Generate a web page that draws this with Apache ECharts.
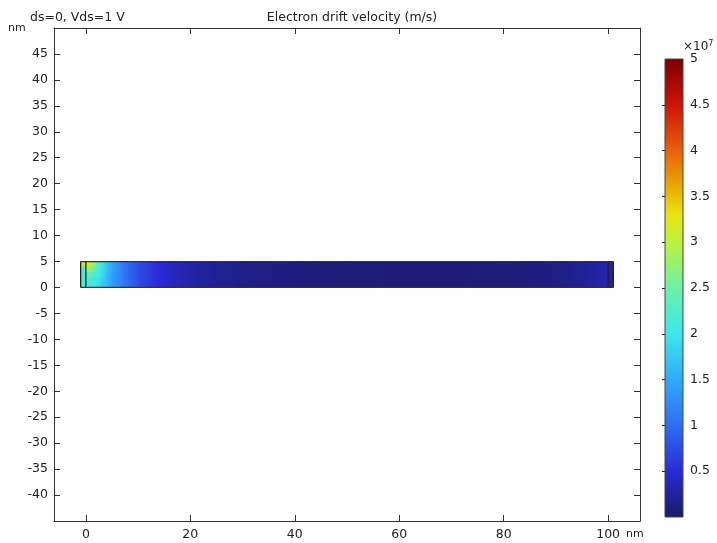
<!DOCTYPE html>
<html>
<head>
<meta charset="utf-8">
<script src="https://cdn.jsdelivr.net/npm/echarts@6/dist/echarts.min.js"></script>
<style>html,body{margin:0;padding:0;background:#fff}#c{width:717px;height:543px}</style>
</head>
<body>
<div id="c"></div>
<script>
// ---- data (velocity in units of 1e7 m/s) ----
const xTicks = [0, 20, 40, 60, 80, 100];
const yTicks = [-40, -35, -30, -25, -20, -15, -10, -5, 0, 5, 10, 15, 20, 25, 30, 35, 40, 45];
const cbTicks = [0.5, 1, 1.5, 2, 2.5, 3, 3.5, 4, 4.5, 5];
const deviceEdgesX = [-1, 0, 100, 101];
const deviceEdgesY = [0, 5];
const rowBandsY = [[4, 5], [3, 4], [2, 3], [1, 2], [0, 1]];
const channelX = [0, 0.5, 1, 2, 3, 4, 5, 7, 10, 13, 16, 20, 25, 30, 40, 50, 60, 70, 80, 85, 90, 95, 98, 100];
const rowTop    = [3.3, 3.2, 2.9, 2.4, 2.0, 1.7, 1.45, 1.1, 0.75, 0.55, 0.4, 0.28, 0.2, 0.15, 0.1, 0.08, 0.07, 0.07, 0.08, 0.1, 0.13, 0.2, 0.28, 0.32];
const rowUpper  = [2.8, 2.8, 2.6, 2.3, 1.95, 1.7, 1.45, 1.1, 0.75, 0.55, 0.4, 0.28, 0.2, 0.15, 0.1, 0.08, 0.07, 0.07, 0.08, 0.1, 0.13, 0.2, 0.28, 0.32];
const rowMiddle = [2.4, 2.4, 2.3, 2.1, 1.9, 1.65, 1.4, 1.1, 0.75, 0.55, 0.4, 0.28, 0.2, 0.15, 0.1, 0.08, 0.07, 0.07, 0.08, 0.1, 0.13, 0.2, 0.28, 0.32];
const rowLower  = [2.2, 2.2, 2.1, 2.0, 1.85, 1.6, 1.4, 1.1, 0.75, 0.55, 0.4, 0.28, 0.2, 0.15, 0.1, 0.08, 0.07, 0.07, 0.08, 0.1, 0.13, 0.2, 0.28, 0.32];
const rowBottom = [2.1, 2.1, 2.05, 1.95, 1.8, 1.6, 1.4, 1.1, 0.75, 0.55, 0.4, 0.28, 0.2, 0.15, 0.1, 0.08, 0.07, 0.07, 0.08, 0.1, 0.13, 0.2, 0.28, 0.32];
const leftContactRows  = [2.9, 2.25, 2.2, 2.15, 2.1];
const rightContactRows = [0.27, 0.26, 0.25, 0.25, 0.25];
const colorRange = [0, 5];

// ---- colormap ----
const cmapStops = [
  [0.0, '#1a1a68'], [0.1, '#2a2ad6'], [0.2, '#2f6ef2'], [0.3, '#30aaf8'],
  [0.4, '#3ee6ea'], [0.5, '#6ef0a6'], [0.6, '#bdf23c'], [0.66, '#e8e414'],
  [0.72, '#e8aa04'], [0.8, '#e8600c'], [0.9, '#cc1408'], [1.0, '#7a0000']
];
function hex2rgb(h){return [parseInt(h.substr(1,2),16),parseInt(h.substr(3,2),16),parseInt(h.substr(5,2),16)];}
function colorAt(v){
  let t = (v - colorRange[0]) / (colorRange[1] - colorRange[0]);
  t = Math.max(0, Math.min(1, t));
  for (let i = 1; i < cmapStops.length; i++) {
    if (t <= cmapStops[i][0]) {
      const a = cmapStops[i-1], b = cmapStops[i];
      const f = (t - a[0]) / (b[0] - a[0]);
      const ca = hex2rgb(a[1]), cb = hex2rgb(b[1]);
      return 'rgb(' + ca.map((c,k)=>Math.round(c + (cb[k]-c)*f)).join(',') + ')';
    }
  }
  return cmapStops[cmapStops.length-1][1];
}

// ---- build cell segments ----
const rows = [rowTop, rowUpper, rowMiddle, rowLower, rowBottom];
const cells = [];
rows.forEach((r, ri) => {
  const [y0, y1] = rowBandsY[ri];
  cells.push([deviceEdgesX[0], deviceEdgesX[1], y0, y1, leftContactRows[ri], leftContactRows[ri]]);
  for (let i = 0; i < channelX.length - 1; i++) {
    cells.push([channelX[i], channelX[i+1], y0, y1, r[i], r[i+1]]);
  }
  cells.push([deviceEdgesX[2], deviceEdgesX[3], y0, y1, rightContactRows[ri], rightContactRows[ri]]);
});

const textColor = '#222';
const lineColor = '#333';
const font = 'DejaVu Sans';

const chart = echarts.init(document.getElementById('c'), null, {renderer: 'canvas'});
const axisCommon = {
  type: 'value',
  axisLine: {show: true, onZero: false, lineStyle: {color: lineColor, width: 1}},
  splitLine: {show: false},
};
chart.setOption({
  animation: false,
  backgroundColor: '#fff',
  title: [
    {text: 'Electron drift velocity (m/s)', left: 347, top: 6, textAlign: 'center',
     textStyle: {fontFamily: font, fontSize: 12.5, fontWeight: 'normal', color: textColor}},
    {text: 'ds=0, Vds=1 V', left: 25, top: 6,
     textStyle: {fontFamily: font, fontSize: 12.5, fontWeight: 'normal', color: textColor}}
  ],
  grid: [
    {left: 54, top: 28, width: 586, height: 493},
    {left: 665, top: 59, width: 18, height: 458}
  ],
  xAxis: [
    Object.assign({}, axisCommon, {gridIndex: 0, min: -6.1, max: 106.1, position: 'bottom',
      name: 'nm', nameLocation: 'end', nameGap: -14,
      nameTextStyle: {fontFamily: font, fontSize: 11, color: textColor, align: 'left', verticalAlign: 'top', padding: [8, 0, 0, 0]},
      axisTick: {show: true, inside: true, length: 6, customValues: xTicks, lineStyle: {color: lineColor}},
      axisLabel: {customValues: xTicks, margin: 7, fontFamily: font, fontSize: 12.5, color: textColor}}),
    Object.assign({}, axisCommon, {gridIndex: 0, min: -6.1, max: 106.1, position: 'top',
      axisTick: {show: true, inside: true, length: 6, customValues: xTicks, lineStyle: {color: lineColor}},
      axisLabel: {show: false}}),
    {type: 'value', gridIndex: 1, min: 0, max: 1, show: false}
  ],
  yAxis: [
    Object.assign({}, axisCommon, {gridIndex: 0, min: -45, max: 50, position: 'left',
      axisTick: {show: true, inside: true, length: 6, customValues: yTicks, lineStyle: {color: lineColor}},
      axisLabel: {customValues: yTicks, margin: 6, fontFamily: font, fontSize: 12.5, color: textColor}}),
    Object.assign({}, axisCommon, {gridIndex: 0, min: -45, max: 50, position: 'right',
      axisTick: {show: true, inside: true, length: 6, customValues: yTicks, lineStyle: {color: lineColor}},
      axisLabel: {show: false}}),
    Object.assign({}, axisCommon, {gridIndex: 1, min: colorRange[0], max: colorRange[1], position: 'right',
      axisLine: {show: false},
      axisTick: {show: true, inside: true, length: 3, customValues: cbTicks.slice(0, -1), lineStyle: {color: '#222'}},
      axisLabel: {customValues: cbTicks, margin: 7, fontFamily: font, fontSize: 12.5, color: textColor,
        formatter: v => String(v)}}),
    Object.assign({}, axisCommon, {gridIndex: 1, min: colorRange[0], max: colorRange[1], position: 'left',
      axisLine: {show: false},
      axisTick: {show: true, inside: true, length: 3, customValues: cbTicks.slice(0, -1), lineStyle: {color: '#222'}},
      axisLabel: {show: false}})
  ],
  graphic: [
    {type: 'text', left: 8, top: 23, style: {text: 'nm', fontFamily: font, fontSize: 11, fill: textColor}},
    {type: 'text', left: 683, top: 40, style: {text: '×10{s|7}', fontFamily: font, fontSize: 12, fill: textColor,
      rich: {s: {fontSize: 8, verticalAlign: 'top', padding: [0, 0, 6, 0], fontFamily: font}}}}
  ],
  series: [
    {
      type: 'custom', xAxisIndex: 0, yAxisIndex: 0, data: cells, silent: true,
      renderItem: function (params, api) {
        const x0 = api.value(0), x1 = api.value(1), y0 = api.value(2), y1 = api.value(3);
        const v0 = api.value(4), v1 = api.value(5);
        const p0 = api.coord([x0, y1]);
        const p1 = api.coord([x1, y0]);
        const stops = [];
        for (let k = 0; k <= 4; k++) {
          stops.push({offset: k / 4, color: colorAt(v0 + (v1 - v0) * k / 4)});
        }
        const isLastCol = x1 === deviceEdgesX[deviceEdgesX.length - 1];
        const isBottom = y0 === deviceEdgesY[0];
        return {
          type: 'rect',
          shape: {x: p0[0], y: p0[1], width: p1[0] - p0[0] + (isLastCol ? 0 : 1.2), height: p1[1] - p0[1] + (isBottom ? 0 : 1.2)},
          style: {fill: new echarts.graphic.LinearGradient(0, 0, 1, 0, stops)}
        };
      }
    },
    {
      type: 'custom', xAxisIndex: 0, yAxisIndex: 0, data: deviceEdgesX.map(x => [x]), silent: true, z: 3,
      renderItem: function (params, api) {
        const x = api.value(0);
        const a = api.coord([x, deviceEdgesY[0]]);
        const b = api.coord([x, deviceEdgesY[1]]);
        const children = [{type: 'line', shape: {x1: a[0], y1: a[1], x2: b[0], y2: b[1]},
          style: {stroke: '#222', lineWidth: 1.3}}];
        if (params.dataIndex === 0) {
          const e = api.coord([deviceEdgesX[deviceEdgesX.length - 1], deviceEdgesY[1]]);
          const f = api.coord([deviceEdgesX[deviceEdgesX.length - 1], deviceEdgesY[0]]);
          children.push({type: 'line', shape: {x1: b[0], y1: b[1], x2: e[0], y2: e[1]}, style: {stroke: '#333', lineWidth: 1.3}});
          children.push({type: 'line', shape: {x1: a[0], y1: a[1], x2: f[0], y2: f[1]}, style: {stroke: '#333', lineWidth: 1.3}});
        }
        return {type: 'group', children: children};
      }
    },
    {
      type: 'custom', xAxisIndex: 2, yAxisIndex: 2, data: [[0, 1, colorRange[0], colorRange[1]]], silent: true,
      renderItem: function (params, api) {
        const p0 = api.coord([api.value(0), api.value(3)]);
        const p1 = api.coord([api.value(1), api.value(2)]);
        const stops = cmapStops.map(s => ({offset: 1 - s[0], color: s[1]})).reverse();
        return {
          type: 'rect',
          shape: {x: p0[0], y: p0[1], width: p1[0] - p0[0], height: p1[1] - p0[1]},
          style: {fill: new echarts.graphic.LinearGradient(0, 0, 0, 1, stops), stroke: '#444', lineWidth: 1},
          z2: -1
        };
      }
    }
  ]
});
</script>
</body>
</html>
